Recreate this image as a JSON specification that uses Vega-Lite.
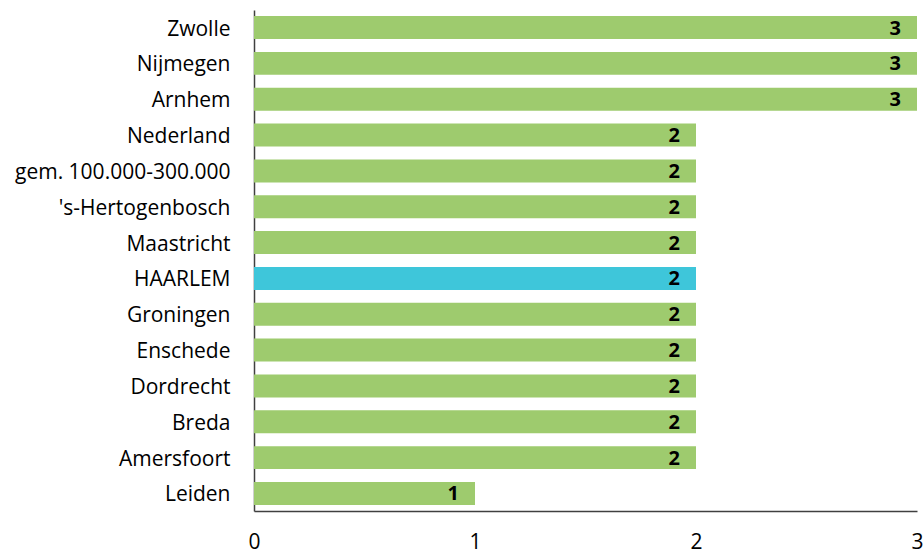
{
  "$schema": "https://vega.github.io/schema/vega-lite/v6.json",
  "width": 663,
  "height": 501,
  "autosize": "none",
  "padding": {"left": 254, "top": 10, "right": 6, "bottom": 43},
  "background": "white",
  "config": {"view": {"stroke": null}, "font": "Open Sans"},
  "data": {
    "values": [
      {"regio": "Zwolle", "waarde": 3, "type": "ander"},
      {"regio": "Nijmegen", "waarde": 3, "type": "ander"},
      {"regio": "Arnhem", "waarde": 3, "type": "ander"},
      {"regio": "Nederland", "waarde": 2, "type": "ander"},
      {"regio": "gem. 100.000-300.000", "waarde": 2, "type": "ander"},
      {"regio": "'s-Hertogenbosch", "waarde": 2, "type": "ander"},
      {"regio": "Maastricht", "waarde": 2, "type": "ander"},
      {"regio": "HAARLEM", "waarde": 2, "type": "haarlem"},
      {"regio": "Groningen", "waarde": 2, "type": "ander"},
      {"regio": "Enschede", "waarde": 2, "type": "ander"},
      {"regio": "Dordrecht", "waarde": 2, "type": "ander"},
      {"regio": "Breda", "waarde": 2, "type": "ander"},
      {"regio": "Amersfoort", "waarde": 2, "type": "ander"},
      {"regio": "Leiden", "waarde": 1, "type": "ander"}
    ]
  },
  "encoding": {
    "y": {
      "field": "regio",
      "type": "nominal",
      "sort": null,
      "scale": {"paddingInner": 0.36, "paddingOuter": 0.17},
      "axis": {
        "title": null,
        "domainColor": "#404040",
        "domainWidth": 1.5,
        "ticks": false,
        "labelPadding": 24,
        "labelFontSize": 21,
        "labelOffset": 2,
        "labelLimit": 0,
        "labelColor": "#000000",
        "labelFont": "Open Sans"
      }
    },
    "x": {
      "field": "waarde",
      "type": "quantitative",
      "scale": {"domain": [0, 3], "nice": false},
      "axis": {
        "title": null,
        "values": [0, 1, 2, 3],
        "grid": false,
        "ticks": false,
        "domainColor": "#404040",
        "domainWidth": 1.5,
        "labelPadding": 20,
        "labelFontSize": 21,
        "labelColor": "#000000",
        "labelFlush": false,
        "labelFont": "Open Sans"
      }
    }
  },
  "layer": [
    {
      "mark": {"type": "bar"},
      "encoding": {
        "color": {
          "field": "type",
          "type": "nominal",
          "scale": {"domain": ["ander", "haarlem"], "range": ["#9ECB6E", "#3EC6DA"]},
          "legend": null
        }
      }
    },
    {
      "mark": {"type": "text", "align": "right", "baseline": "middle", "dx": -16, "dy": 1, "fontWeight": "bold", "fontSize": 20, "color": "#000000", "font": "Open Sans"},
      "encoding": {
        "text": {"field": "waarde", "type": "quantitative"}
      }
    }
  ]
}
